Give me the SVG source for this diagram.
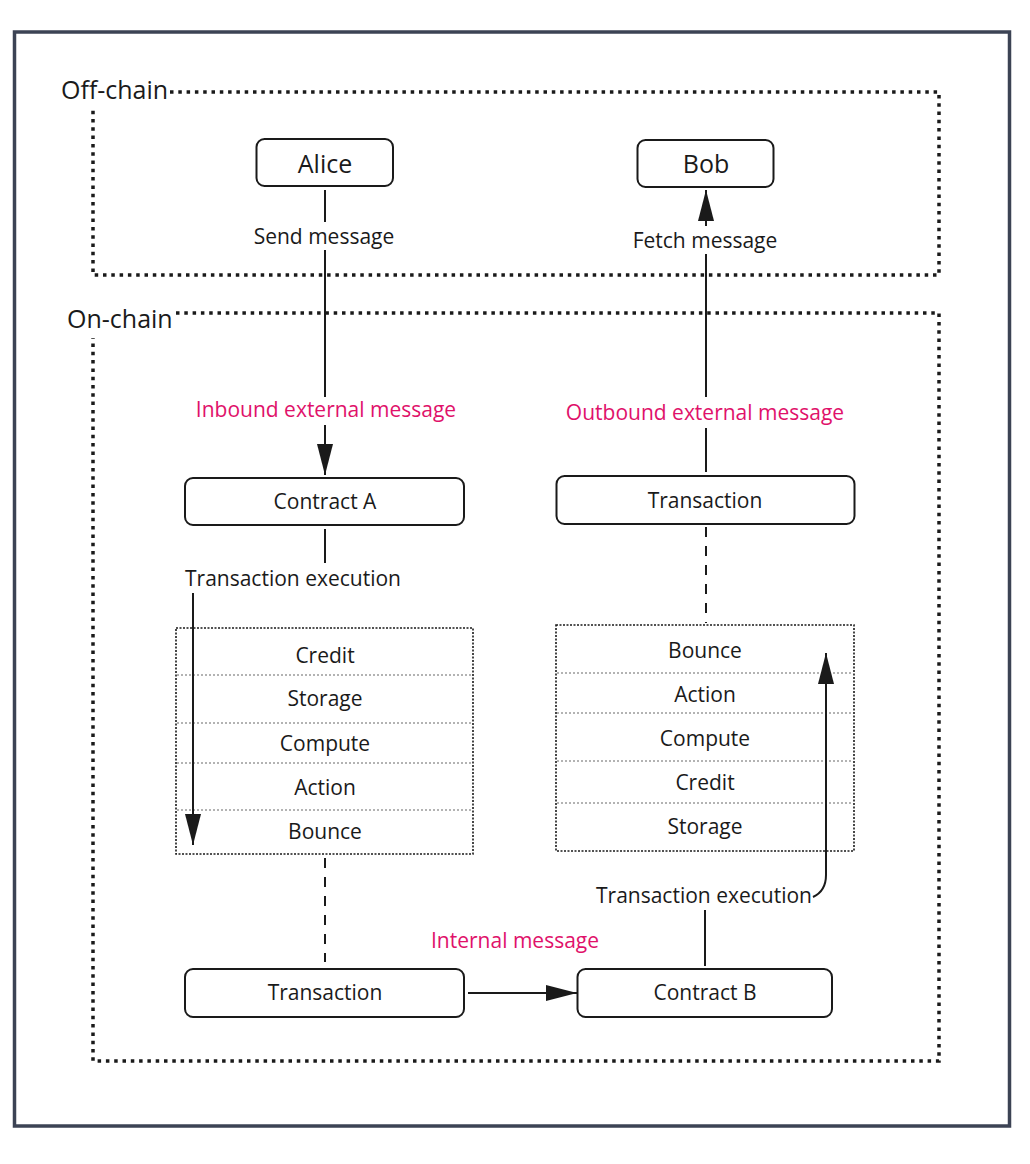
<svg xmlns="http://www.w3.org/2000/svg" width="1030" height="1164" viewBox="0 0 1030 1164">
<style>
  .t { font-family: "Open Sans", "Noto Sans", "Liberation Sans", sans-serif; fill: #1a1a1a; text-anchor: middle; }
  .big { font-size: 25px; }
  .lbl { font-size: 21px; }
  .pink { fill: #e0116a; }
  .node { fill: #ffffff; stroke: #1a1a1a; stroke-width: 2; }
  .zone { fill: none; stroke: #1a1a1a; stroke-width: 3.5; stroke-dasharray: 3.5 4.8; }
  .stack { fill: #ffffff; stroke: #1a1a1a; stroke-width: 1.6; stroke-dasharray: 2 1.5; }
  .sep { stroke: #9a9a9a; stroke-width: 1.3; stroke-dasharray: 2 2; }
  .line { fill: none; stroke: #1a1a1a; stroke-width: 2; }
  .dash { fill: none; stroke: #1a1a1a; stroke-width: 2; stroke-dasharray: 10 9; }
</style>
<defs>
  <marker id="arr" markerUnits="userSpaceOnUse" markerWidth="32" markerHeight="16" refX="31" refY="8" orient="auto">
    <path d="M0,0 L31,8 L0,16 Z" fill="#1a1a1a"/>
  </marker>
</defs>
<rect x="0" y="0" width="1030" height="1164" fill="#ffffff"/>
<rect x="14.5" y="32" width="995" height="1094" fill="none" stroke="#3c4354" stroke-width="3.5"/>

<g id="offchain">
  <path class="zone" d="M170 92 L939 92 L939 275 L93 275 L93 106"/>
  <text class="t big" x="61" y="99" style="text-anchor:start">Off-chain</text>
</g>
<g id="onchain">
  <path class="zone" d="M176 313 L939 313 L939 1061 L93 1061 L93 338"/>
  <text class="t big" x="67" y="328" style="text-anchor:start">On-chain</text>
</g>

<g id="alice">
  <rect class="node" x="256.5" y="139" width="136.5" height="47" rx="8"/>
  <text class="t big" x="325" y="173">Alice</text>
</g>
<g id="bob">
  <rect class="node" x="637.5" y="140" width="136" height="47" rx="8"/>
  <text class="t big" x="706" y="173">Bob</text>
</g>
<g id="contract-a">
  <rect class="node" x="185" y="478" width="279" height="47" rx="8"/>
  <text class="t lbl" x="325" y="509">Contract A</text>
</g>
<g id="transaction-top">
  <rect class="node" x="556.5" y="476" width="298" height="48" rx="8"/>
  <text class="t lbl" x="705" y="508">Transaction</text>
</g>
<g id="stack-a">
  <rect class="stack" x="176" y="628" width="297" height="226"/>
  <line class="sep" x1="177" y1="675" x2="472" y2="675"/>
  <line class="sep" x1="177" y1="723" x2="472" y2="723"/>
  <line class="sep" x1="177" y1="763" x2="472" y2="763"/>
  <line class="sep" x1="177" y1="810" x2="472" y2="810"/>
  <text class="t lbl" x="325" y="663">Credit</text>
  <text class="t lbl" x="325" y="706">Storage</text>
  <text class="t lbl" x="325" y="751">Compute</text>
  <text class="t lbl" x="325" y="795">Action</text>
  <text class="t lbl" x="325" y="839">Bounce</text>
</g>
<g id="stack-b">
  <rect class="stack" x="556" y="625" width="298" height="226"/>
  <line class="sep" x1="557" y1="673" x2="853" y2="673"/>
  <line class="sep" x1="557" y1="713" x2="853" y2="713"/>
  <line class="sep" x1="557" y1="761" x2="853" y2="761"/>
  <line class="sep" x1="557" y1="803" x2="853" y2="803"/>
  <text class="t lbl" x="705" y="658">Bounce</text>
  <text class="t lbl" x="705" y="702">Action</text>
  <text class="t lbl" x="705" y="746">Compute</text>
  <text class="t lbl" x="705" y="790">Credit</text>
  <text class="t lbl" x="705" y="834">Storage</text>
</g>
<g id="transaction-bottom">
  <rect class="node" x="185" y="969" width="279" height="48" rx="8"/>
  <text class="t lbl" x="325" y="1000">Transaction</text>
</g>
<g id="contract-b">
  <rect class="node" x="577.5" y="969" width="254.5" height="48" rx="8"/>
  <text class="t lbl" x="705" y="1000">Contract B</text>
</g>

<g id="connectors">
  <line class="line" x1="325" y1="190" x2="325" y2="222"/>
  <line class="line" x1="325" y1="250" x2="325" y2="397"/>
  <line class="line" x1="325" y1="425" x2="325" y2="475" marker-end="url(#arr)"/>
  <line class="line" x1="706" y1="472" x2="706" y2="428"/>
  <line class="line" x1="706" y1="397" x2="706" y2="254"/>
  <line class="line" x1="706" y1="226" x2="706" y2="190" marker-end="url(#arr)"/>
  <line class="line" x1="325" y1="529" x2="325" y2="563"/>
  <line class="line" x1="193" y1="593" x2="193" y2="845" marker-end="url(#arr)"/>
  <line class="dash" x1="325" y1="858" x2="325" y2="962"/>
  <line class="line" x1="468" y1="993" x2="577" y2="993" marker-end="url(#arr)"/>
  <line class="line" x1="705" y1="966" x2="705" y2="910"/>
  <path class="line" d="M813 897 Q826 891 826 875 L826 653" marker-end="url(#arr)"/>
  <line class="dash" x1="706" y1="527" x2="706" y2="623"/>
  <text class="t lbl" x="324" y="244">Send message</text>
  <text class="t lbl" x="705" y="248">Fetch message</text>
  <text class="t lbl pink" x="326" y="417">Inbound external message</text>
  <text class="t lbl pink" x="705" y="420">Outbound external message</text>
  <text class="t lbl" x="185" y="586" style="text-anchor:start">Transaction execution</text>
  <text class="t lbl" x="704" y="903">Transaction execution</text>
  <text class="t lbl pink" x="515" y="948">Internal message</text>
</g>
</svg>
